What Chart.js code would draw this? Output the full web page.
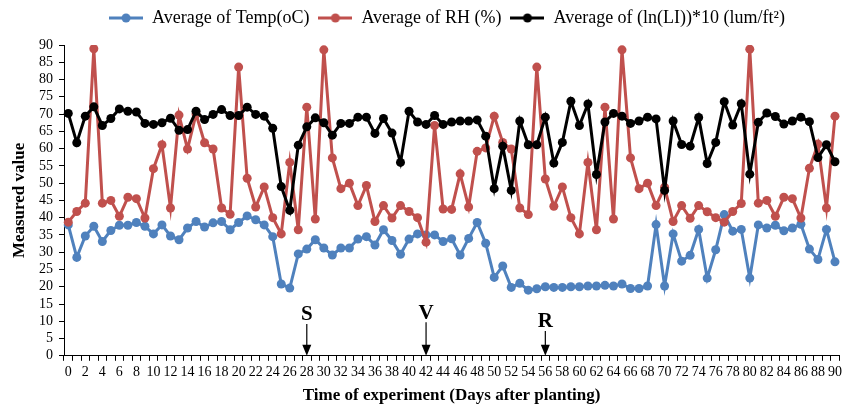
<!DOCTYPE html>
<html>
<head>
<meta charset="utf-8">
<script src="https://cdn.jsdelivr.net/npm/chart.js@4.4.1/dist/chart.umd.min.js"></script>
<style>
html,body{margin:0;padding:0;background:#fff;}
#wrap{width:845px;height:406px;}
</style>
</head>
<body>
<div id="wrap"><canvas id="c" width="845" height="406"></canvas></div>
<script>
// ---- data ----
const days = [0,1,2,3,4,5,6,7,8,9,10,11,12,13,14,15,16,17,18,19,20,21,22,23,24,25,26,27,28,29,30,31,32,33,34,35,36,37,38,39,40,41,42,43,44,45,46,47,48,49,50,51,52,53,54,55,56,57,58,59,60,61,62,63,64,65,66,67,68,69,70,71,72,73,74,75,76,77,78,79,80,81,82,83,84,85,86,87,88,89,90];

const tempValues = [
37.9, 28.5, 34.7, 37.5, 33.1, 36.3, 37.8, 37.8, 38.6, 37.5,
35.3, 37.9, 34.7, 33.6, 37.0, 38.9, 37.3, 38.5, 38.9, 36.5,
38.6, 40.5, 39.4, 37.9, 34.5, 20.8, 19.6, 29.5, 30.9, 33.6,
31.2, 29.2, 31.2, 31.2, 33.8, 34.5, 32.1, 36.5, 33.4, 29.4,
33.8, 35.3, 35.0, 35.0, 33.1, 33.9, 29.2, 34.0, 38.6, 32.6,
22.7, 26.0, 19.8, 21.0, 19.0, 19.4, 20.0, 19.8, 19.8, 20.0,
20.0, 20.2, 20.2, 20.4, 20.2, 20.8, 19.5, 19.5, 20.2, 38.0,
20.2, 35.3, 27.4, 29.1, 36.6, 22.5, 30.7, 40.9, 36.1, 36.6,
22.5, 37.9, 37.0, 37.8, 36.2, 37.0, 38.1, 30.9, 27.9, 36.6,
27.2
];

const rhValues = [
38.7, 41.8, 44.2, 88.9, 44.2, 45.0, 40.4, 45.9, 45.5, 39.9,
54.2, 61.1, 42.8, 69.7, 59.9, 70.0, 61.7, 59.9, 42.8, 41.0,
83.6, 51.4, 43.1, 48.9, 40.0, 35.3, 56.0, 36.5, 72.0, 39.6,
88.6, 57.3, 48.4, 50.0, 43.5, 49.3, 38.9, 43.5, 39.9, 43.5,
41.8, 40.0, 32.9, 66.7, 42.5, 42.4, 52.7, 43.1, 59.2, 60.2,
69.4, 61.8, 59.9, 42.8, 40.9, 83.6, 51.2, 43.3, 48.9, 40.0,
35.3, 56.0, 36.5, 72.0, 39.6, 88.6, 57.3, 48.4, 50.0, 43.5,
48.8, 38.9, 43.5, 39.8, 43.5, 41.7, 40.0, 38.7, 41.8, 44.1,
88.8, 44.2, 45.0, 40.4, 45.9, 45.5, 39.9, 54.3, 61.3, 42.8,
69.4
];

const lightValues = [
70.2, 61.7, 69.4, 72.1, 66.7, 68.7, 71.5, 70.8, 70.6, 67.3,
67.0, 67.5, 68.8, 65.3, 65.5, 70.8, 68.4, 69.9, 71.3, 69.6,
69.6, 72.0, 69.9, 69.4, 65.9, 49.0, 42.1, 61.0, 66.3, 68.9,
67.5, 63.9, 67.3, 67.3, 69.1, 69.1, 64.4, 68.7, 64.5, 56.0,
70.8, 67.7, 67.0, 69.6, 67.0, 67.7, 68.0, 68.0, 68.3, 63.6,
48.4, 60.7, 47.9, 68.0, 61.1, 61.1, 69.1, 55.8, 61.8, 73.7,
66.7, 72.9, 52.5, 67.7, 70.2, 69.4, 67.3, 68.0, 69.1, 68.6,
47.9, 68.0, 61.2, 60.7, 69.0, 55.7, 61.8, 73.6, 66.8, 73.0,
52.6, 67.6, 70.3, 69.3, 67.1, 68.0, 69.1, 67.8, 57.4, 61.1,
56.2
];

const seriesNames = ['Average of Temp(oC)', 'Average of RH (%)', 'Average of (ln(LI))*10 (lum/ft\u00B2)'];
const yTicks = [0,5,10,15,20,25,30,35,40,45,50,55,60,65,70,75,80,85,90];

// growth stage markers
const stageLabels = ['S','V','R'];
const stageDays = [28, 42, 56];
const stageTextValues = [11.8, 12.3, 9.8];

// ---- styling ----
const FONT = "'Liberation Serif', 'Times New Roman', serif";
const colors = ['#4F81BD', '#C0504D', '#000000'];

function makeMarker(color){
  const c = document.createElement('canvas');
  c.width = 34; c.height = 12;
  const g = c.getContext('2d');
  g.strokeStyle = color; g.lineWidth = 3;
  g.beginPath(); g.moveTo(0,6); g.lineTo(34,6); g.stroke();
  g.fillStyle = color;
  g.beginPath(); g.arc(17,6,4.5,0,Math.PI*2); g.fill();
  return c;
}
const markers = colors.map(makeMarker);

// extra space below the legend
const LegendEl = Chart.Legend && Chart.Legend._element;
if (LegendEl) {
  const origFit = LegendEl.prototype.fit;
  LegendEl.prototype.fit = function(){ origFit.call(this); if (this.isHorizontal()) this.height += 8; };
}

const LEGEND_SHIFT = 26;
const legendShift = {
  id: 'legendShift',
  afterLayout(chart){
    if (chart.legend){ chart.legend.left += LEGEND_SHIFT; chart.legend.right += LEGEND_SHIFT; }
  }
};

const stagePlugin = {
  id: 'stages',
  afterDatasetsDraw(chart){
    const ctx = chart.ctx;
    const xs = chart.scales.x, ys = chart.scales.y;
    ctx.save();
    ctx.fillStyle = '#000'; ctx.strokeStyle = '#000';
    ctx.font = "bold 21px " + FONT;
    ctx.textAlign = 'center'; ctx.textBaseline = 'middle';
    for (let i = 0; i < stageLabels.length; i++){
      const x = xs.getPixelForValue(days.indexOf(stageDays[i]));
      const ty = ys.getPixelForValue(stageTextValues[i]);
      ctx.fillText(stageLabels[i], x, ty);
      const y0 = ty + 9, y1 = ys.getPixelForValue(0);
      ctx.lineWidth = 1.2;
      ctx.beginPath(); ctx.moveTo(x, y0); ctx.lineTo(x, y1 - 10); ctx.stroke();
      ctx.beginPath();
      ctx.moveTo(x - 4.5, y1 - 11); ctx.lineTo(x + 4.5, y1 - 11); ctx.lineTo(x, y1); ctx.closePath();
      ctx.fill();
    }
    ctx.restore();
  }
};

const ds = (label, data, color, order) => ({
  label, data,
  borderColor: color, backgroundColor: color,
  pointBackgroundColor: color, pointBorderColor: color,
  borderWidth: 3, pointRadius: 4.5, pointHoverRadius: 4.5,
  pointBorderWidth: 0, tension: 0, order
});

new Chart(document.getElementById('c'), {
  type: 'line',
  data: {
    labels: days,
    datasets: [
      ds(seriesNames[0], tempValues, colors[0], 3),
      ds(seriesNames[1], rhValues, colors[1], 2),
      ds(seriesNames[2], lightValues, colors[2], 1)
    ]
  },
  options: {
    responsive: false,
    animation: false,
    devicePixelRatio: 1,
    layout: { padding: { left: 0, right: 3, top: 0, bottom: 0 } },
    plugins: {
      tooltip: { enabled: false },
      legend: {
        position: 'top',
        labels: {
          usePointStyle: true,
          pointStyleWidth: 34,
          boxHeight: 12,
          padding: 9,
          color: '#000',
          font: { family: FONT, size: 18 },
          sort: (a, b) => a.datasetIndex - b.datasetIndex,
          generateLabels(chart){
            const items = Chart.defaults.plugins.legend.labels.generateLabels(chart);
            items.forEach(it => { it.pointStyle = markers[it.datasetIndex]; });
            return items;
          }
        }
      }
    },
    scales: {
      x: {
        type: 'category',
        offset: true,
        grid: { offset: true, drawOnChartArea: false, drawTicks: true, tickLength: 5, color: '#000', lineWidth: 1 },
        border: { color: '#000', width: 1 },
        ticks: {
          autoSkip: false, maxRotation: 0, minRotation: 0, padding: 3,
          color: '#000', font: { family: FONT, size: 14 },
          callback(v, i){ return i % 2 === 0 ? String(days[i]) : ''; }
        },
        title: { display: true, text: 'Time of experiment (Days after planting)', color: '#000',
                 font: { family: FONT, size: 17, weight: 'bold' }, padding: { top: 2, bottom: 0 } }
      },
      y: {
        min: 0, max: 90,
        afterBuildTicks(scale){ scale.ticks = yTicks.map(v => ({ value: v })); },
        afterFit(scale){ scale.width = 64; },
        grid: { drawOnChartArea: false, drawTicks: true, tickLength: 5, color: '#000' },
        border: { color: '#000', width: 1 },
        ticks: { autoSkip: false, color: '#000', padding: 6, font: { family: FONT, size: 14 } },
        title: { display: true, text: 'Measured value', color: '#000',
                 font: { family: FONT, size: 17, weight: 'bold' }, padding: { top: 9, bottom: 4 } }
      }
    }
  },
  plugins: [stagePlugin, legendShift]
});
</script>
</body>
</html>
